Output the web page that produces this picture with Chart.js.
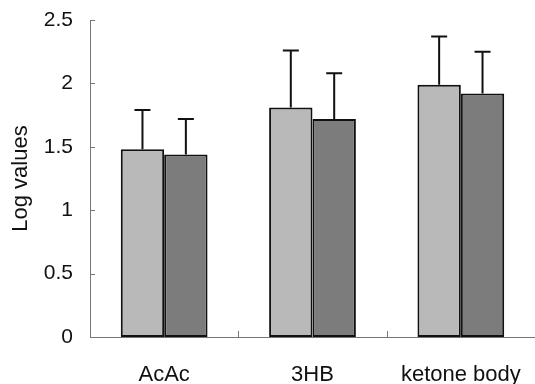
<!DOCTYPE html>
<html>
<head>
<meta charset="utf-8">
<script src="https://cdn.jsdelivr.net/npm/chart.js@4"></script>
<style>
  html, body { margin: 0; padding: 0; background: #fff; }
  #wrap { width: 535px; height: 384px; }
</style>
</head>
<body>
<div id="wrap"><canvas id="chart" width="535" height="384"></canvas></div>
<script>
const categories = ["AcAc", "3HB", "ketone body"];
const seriesA = [1.48, 1.81, 1.99];
const seriesAErr = [0.31, 0.45, 0.38];
const seriesB = [1.44, 1.72, 1.92];
const seriesBErr = [0.28, 0.36, 0.33];
const yTicks = [0, 0.5, 1, 1.5, 2, 2.5];

const FONT = "'Liberation Sans', Arial, sans-serif";

// upward error bars with caps + inner axis ticks
const errorBars = {
  id: "errorBars",
  afterDatasetsDraw(chart) {
    const { ctx } = chart;
    const y = chart.scales.y;
    chart.data.datasets.forEach((ds, i) => {
      const meta = chart.getDatasetMeta(i);
      meta.data.forEach((bar, j) => {
        const top = y.getPixelForValue(ds.data[j] + ds.err[j]);
        const x = bar.x;
        ctx.save();
        ctx.strokeStyle = "#111";
        ctx.lineWidth = 2;
        ctx.beginPath();
        ctx.moveTo(x, bar.y);
        ctx.lineTo(x, top);
        ctx.moveTo(x - 8, top);
        ctx.lineTo(x + 8, top);
        ctx.stroke();
        ctx.restore();
      });
    });
  },
  afterDraw(chart) {
    const { ctx, chartArea } = chart;
    const y = chart.scales.y;
    const x = chart.scales.x;
    ctx.save();
    ctx.strokeStyle = "#777";
    ctx.lineWidth = 1;
    ctx.beginPath();
    yTicks.forEach((v) => {
      const py = Math.round(y.getPixelForValue(v)) + 0.5;
      ctx.moveTo(chartArea.left, py);
      ctx.lineTo(chartArea.left + 5, py);
    });
    for (let k = 1; k < categories.length; k++) {
      const px = Math.round((x.getPixelForValue(k - 1) + x.getPixelForValue(k)) / 2) + 0.5;
      ctx.moveTo(px, chartArea.bottom);
      ctx.lineTo(px, chartArea.bottom - 6);
    }
    ctx.stroke();
    ctx.restore();
  },
};

new Chart(document.getElementById("chart"), {
  type: "bar",
  data: {
    labels: categories,
    datasets: [
      {
        label: "A",
        data: seriesA,
        err: seriesAErr,
        backgroundColor: "#b9b9b9",
        borderColor: "#111",
        borderWidth: 2,
        borderSkipped: false,
        categoryPercentage: 0.585,
        barPercentage: 1.0,
      },
      {
        label: "B",
        data: seriesB,
        err: seriesBErr,
        backgroundColor: "#7c7c7c",
        borderColor: "#111",
        borderWidth: 2,
        borderSkipped: false,
        categoryPercentage: 0.585,
        barPercentage: 1.0,
      },
    ],
  },
  options: {
    responsive: false,
    animation: false,
    layout: { padding: { top: 20, right: 0, left: 0, bottom: 0 } },
    plugins: { legend: { display: false }, tooltip: { enabled: false } },
    scales: {
      x: {
        grid: { display: false },
        border: { display: true, color: "#777", width: 1 },
        ticks: {
          color: "#111",
          padding: 17,
          font: { family: FONT, size: 22 },
        },
        afterFit(s) { s.height = 47; s.paddingLeft = 0; s.paddingRight = 0; },
      },
      y: {
        min: 0,
        max: 2.5,
        grid: { display: false },
        border: { display: true, color: "#777", width: 1 },
        afterBuildTicks(s) { s.ticks = yTicks.map((v) => ({ value: v })); },
        ticks: {
          color: "#111",
          padding: 9,
          font: { family: FONT, size: 21 },
          callback: (v) => String(v),
        },
        title: {
          display: true,
          text: "Log values",
          color: "#111",
          padding: { top: 8, bottom: 0 },
          font: { family: FONT, size: 22 },
        },
        afterFit(s) { s.width = 90; s.paddingTop = 0; s.paddingBottom = 0; },
      },
    },
  },
  plugins: [errorBars],
});
</script>
</body>
</html>
